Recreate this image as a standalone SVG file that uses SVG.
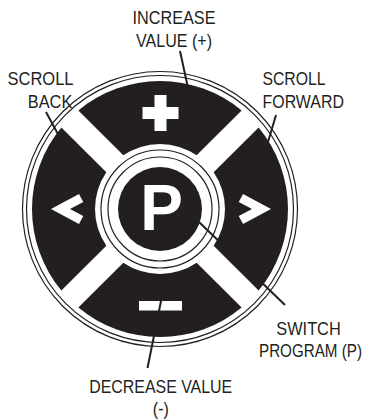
<svg xmlns="http://www.w3.org/2000/svg" width="365" height="419" viewBox="0 0 365 419">
<style>
.lbl{font-family:"Liberation Sans",Arial,sans-serif;font-size:18px;fill:#231f20}
.seg{fill:#231f20}
.ring{fill:none;stroke:#231f20;stroke-width:1.2}
.lead{stroke:#231f20;stroke-width:2;fill:none}
.glyph{fill:#fff}
</style>
<rect width="365" height="419" fill="#fff"/>
<g id="outer-ring">
<circle class="ring" cx="160" cy="209" r="137.5"/>
<circle class="ring" cx="160" cy="209" r="133.5"/>
</g>
<g id="btn-increase">
<path class="seg" d="M78.39,110.39 A128,128 0 0 1 241.61,110.39 L196.67,155.33 A65,65 0 0 0 123.33,155.33 Z"/>
<rect class="glyph" x="154.5" y="95" width="12" height="36"/>
<rect class="glyph" x="142.5" y="107" width="36" height="12"/>
</g>
<g id="btn-forward">
<path class="seg" d="M258.61,127.39 A128,128 0 0 1 258.61,290.61 L213.67,245.67 A65,65 0 0 0 213.67,172.33 Z"/>
<polygon class="glyph" points="271,209 243,194 238.75,201.9 252,209 238.75,216.1 243,224"/>
</g>
<g id="btn-decrease">
<path class="seg" d="M241.61,307.61 A128,128 0 0 1 78.39,307.61 L123.33,262.67 A65,65 0 0 0 196.67,262.67 Z"/>
<rect class="glyph" x="139" y="301" width="43" height="9.5"/>
</g>
<g id="btn-back">
<path class="seg" d="M61.39,290.61 A128,128 0 0 1 61.39,127.39 L106.33,172.33 A65,65 0 0 0 106.33,245.67 Z"/>
<polygon class="glyph" points="51,209 79,194 83.25,201.9 70,209 83.25,216.1 79,224"/>
</g>
<g id="btn-program">
<circle class="ring" cx="160" cy="209" r="59"/>
<circle class="ring" cx="160" cy="209" r="52"/>
<circle class="seg" cx="160" cy="209" r="42"/>
<text x="161.5" y="230" text-anchor="middle" style="font-family:'Liberation Sans',Arial,sans-serif;font-weight:bold;font-size:64px;fill:#fff">P</text>
</g>
<g id="connectors">
<line class="lead" x1="180" y1="51" x2="188" y2="88"/>
<line class="lead" x1="46" y1="112" x2="59" y2="136"/>
<line class="lead" x1="276" y1="115" x2="268" y2="142"/>
<line class="lead" x1="199" y1="222" x2="285" y2="305"/>
<line class="lead" x1="147.5" y1="368" x2="161.2" y2="300"/>
</g>
<g id="labels">
<text class="lbl" x="174" y="23.5" text-anchor="middle" textLength="83" lengthAdjust="spacingAndGlyphs">INCREASE</text>
<text class="lbl" x="174" y="46.5" text-anchor="middle" textLength="76" lengthAdjust="spacingAndGlyphs">VALUE (+)</text>
<text class="lbl" x="7.5" y="85" textLength="66" lengthAdjust="spacingAndGlyphs">SCROLL</text>
<text class="lbl" x="27.8" y="108.3" textLength="44.5" lengthAdjust="spacingAndGlyphs">BACK</text>
<text class="lbl" x="262.5" y="85" textLength="63" lengthAdjust="spacingAndGlyphs">SCROLL</text>
<text class="lbl" x="262.5" y="108.3" textLength="81.5" lengthAdjust="spacingAndGlyphs">FORWARD</text>
<text class="lbl" x="308.5" y="335" text-anchor="middle" textLength="64.5" lengthAdjust="spacingAndGlyphs">SWITCH</text>
<text class="lbl" transform="translate(310.5,356.7) scale(1,1.161)" x="0" y="0" text-anchor="middle" textLength="103" lengthAdjust="spacingAndGlyphs" style="font-size:15.5px">PROGRAM (P)</text>
<text class="lbl" x="89.2" y="393.3" textLength="143" lengthAdjust="spacingAndGlyphs">DECREASE VALUE</text>
<text class="lbl" x="160.8" y="414.5" text-anchor="middle" textLength="16" lengthAdjust="spacingAndGlyphs">(-)</text>
</g>
</svg>
